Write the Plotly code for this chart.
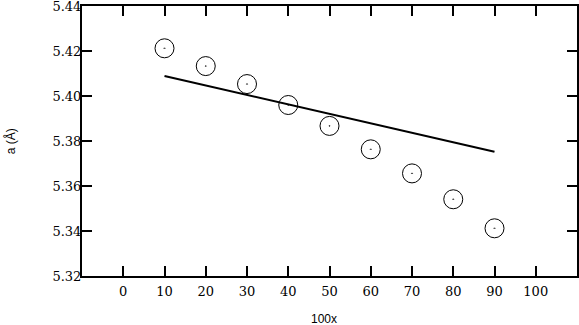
import plotly.graph_objects as go

x_pts = [10, 20, 30, 40, 50, 60, 70, 80, 90]
a_pts = [5.4212, 5.4133, 5.4053, 5.3960, 5.3867, 5.3763, 5.3656, 5.3541, 5.3412]
x_line = [10, 90]
a_line = [5.4089, 5.3752]
x_ticks = [0, 10, 20, 30, 40, 50, 60, 70, 80, 90, 100]
y_ticks = [5.32, 5.34, 5.36, 5.38, 5.40, 5.42, 5.44]

fig = go.Figure()
fig.add_trace(go.Scatter(x=x_line, y=a_line, mode="lines",
                         line=dict(color="black", width=2), showlegend=False))
fig.add_trace(go.Scatter(x=x_pts, y=a_pts, mode="markers",
                         marker=dict(symbol="circle-open-dot", size=19, color="black",
                                     line=dict(color="black", width=1)),
                         showlegend=False, cliponaxis=False))

axis_common = dict(showline=True, linecolor="black", linewidth=2, mirror="ticks",
                   ticks="inside", ticklen=10, tickwidth=2, tickcolor="black",
                   showgrid=False, zeroline=False, automargin=False,
                   ticklabeloverflow="allow",
                   tickfont=dict(family="DejaVu Serif", size=13, color="black"))

fig.update_xaxes(range=[-10, 110], tickvals=x_ticks, ticklabelstandoff=2, **axis_common)
fig.update_yaxes(range=[5.32, 5.44], tickvals=y_ticks, tickformat=".2f",
                 ticklabelstandoff=-4, **axis_common)

title_font = dict(family="Liberation Sans", size=12, color="black")
fig.add_annotation(text="100x", xref="paper", yref="paper", x=0.488, y=-0.159,
                   xanchor="center", yanchor="middle", showarrow=False, font=title_font)
fig.add_annotation(text="a (Å)", xref="paper", yref="paper", x=-0.145, y=0.5,
                   xanchor="center", yanchor="middle", textangle=-90, showarrow=False,
                   font=title_font)

fig.update_layout(width=579, height=325, margin=dict(l=82, r=2, t=6, b=49),
                  plot_bgcolor="white", paper_bgcolor="white")

fig.write_html("out.html", config={"displayModeBar": False},
               post_script="document.body.style.margin='0';document.body.style.overflow='hidden';")
